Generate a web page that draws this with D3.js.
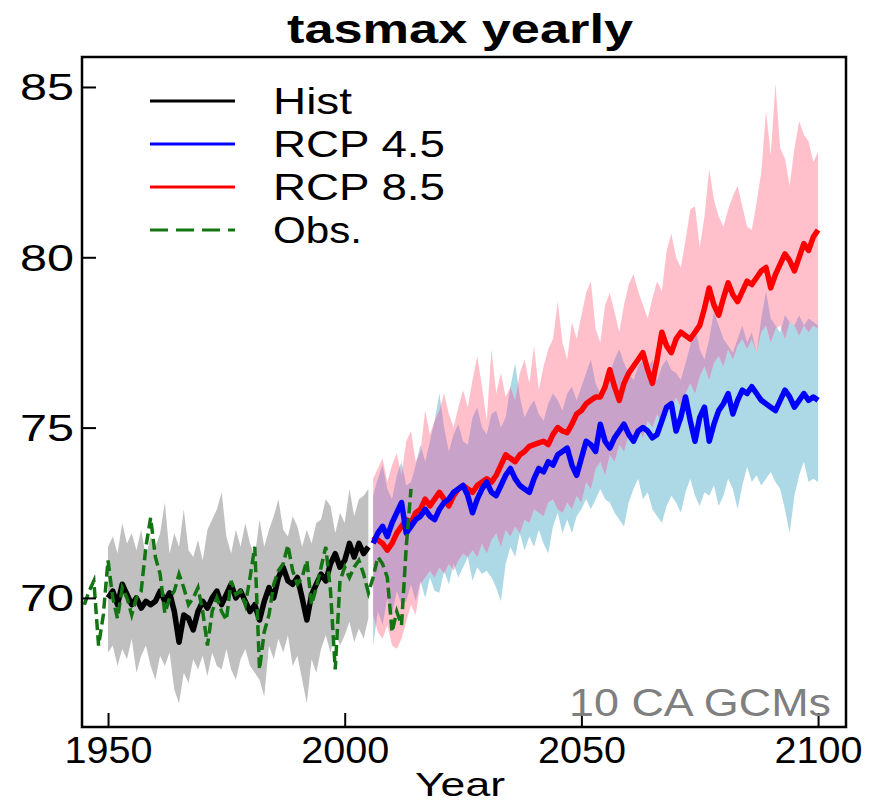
<!DOCTYPE html>
<html><head><meta charset="utf-8">
<script src="https://cdn.jsdelivr.net/npm/d3@7"></script>
<style>body{margin:0;background:#fff}svg{display:block}</style>
</head><body><svg id="c" width="880" height="805"></svg>
<script>
// ---------------- DATA ----------------
const histStart = 1950, obsStart = 1945, rcpStart = 2006;
const histMean = [70.0,70.2,69.8,70.4,70.1,69.8,70.0,69.7,69.9,69.8,
  69.9,70.2,69.9,70.15,69.6,68.7,69.5,69.4,69.06,69.6,
  69.9,69.7,70.0,70.2,69.8,70.1,70.4,70.0,70.2,69.9,
  69.6,69.8,69.35,69.9,70.3,70.0,70.6,70.9,70.5,70.4,
  70.6,70.0,69.35,70.1,70.4,70.7,70.5,71.0,71.3,70.9,
  71.1,71.6,71.2,71.6,71.3,71.5];
const histHi = [71.5,71.8,71.3,72.2,71.6,71.9,71.4,72.0,71.2,71.8,
  71.5,71.9,72.8,71.3,71.9,71.5,72.6,71.4,71.2,71.7,
  71.1,72.0,72.3,72.6,73.1,71.8,71.3,72.0,71.5,72.2,
  71.6,71.2,72.3,71.5,72.0,72.4,72.9,72.0,71.8,72.4,
  72.1,71.5,72.0,71.6,72.2,72.3,72.9,72.7,71.9,72.5,
  72.2,73.2,72.4,72.9,73.0,73.2];
const histLo = [68.4,68.6,68.0,68.5,68.2,68.8,67.8,68.3,68.6,68.0,
  67.6,68.3,68.0,68.4,67.3,66.9,67.8,67.5,68.2,67.9,
  68.3,67.7,68.4,68.0,67.9,68.5,67.9,67.6,68.2,68.5,
  68.0,67.8,67.6,67.1,68.6,68.2,68.8,68.4,68.9,68.0,
  68.3,67.6,66.9,68.2,67.8,68.5,68.9,68.4,69.0,68.6,
  68.9,69.3,68.7,69.1,68.8,69.4];
const obs = [69.8,70.2,70.5,68.6,69.5,71.1,70.0,69.4,70.3,70.0,
  69.5,70.0,70.2,71.5,72.35,71.2,70.7,69.55,70.0,70.2,
  70.7,70.3,69.8,70.0,70.3,69.6,68.6,69.6,70.0,69.6,
  69.35,70.5,70.1,70.2,69.8,70.6,71.5,67.9,69.0,69.5,
  70.4,70.8,71.0,71.55,70.8,70.4,70.6,71.1,69.8,70.3,
  70.9,71.5,70.2,67.9,70.5,70.9,70.6,70.9,71.1,70.7,
  70.15,70.6,71.2,71.0,70.6,69.0,69.6,69.2,71.5,73.2];
const rcp45 = [71.6,71.9,72.1,71.8,72.2,72.5,72.8,71.9,72.1,72.3,
  72.4,72.6,72.4,72.3,72.6,72.8,72.9,73.1,73.2,73.3,
  73.0,72.5,72.9,73.2,73.4,73.1,73.0,73.3,73.6,73.8,
  73.5,73.3,73.2,73.1,73.5,73.8,73.7,74.0,73.9,74.2,
  74.3,74.4,73.9,73.6,74.1,74.6,74.5,74.3,75.1,74.6,
  74.4,74.7,74.9,75.1,74.8,74.6,74.9,75.0,74.9,74.7,
  74.8,75.2,75.6,75.7,74.9,75.3,75.9,75.2,74.6,75.3,
  75.6,74.6,75.1,75.5,75.7,76.0,75.4,75.8,76.1,76.0,
  76.2,76.0,75.8,75.7,75.6,75.5,75.8,76.1,75.9,75.6,
  75.8,76.0,75.8,75.9,75.8];
const rcp85 = [71.8,71.7,71.6,71.4,71.6,71.9,72.1,72.3,72.2,72.5,
  72.6,72.9,72.7,72.9,73.1,72.9,72.7,73.0,73.2,73.3,
  73.2,73.1,73.3,73.4,73.5,73.4,73.6,73.9,74.2,74.1,
  74.0,74.2,74.3,74.45,74.5,74.55,74.6,74.5,74.8,75.0,
  74.9,74.85,75.1,75.4,75.5,75.7,75.8,75.9,75.9,76.2,
  76.7,76.2,75.8,76.3,76.6,76.8,77.0,77.2,76.7,76.3,
  77.0,77.8,77.4,77.2,77.6,77.8,77.7,77.6,77.8,78.0,
  78.5,79.1,78.6,78.3,78.8,79.25,78.9,78.7,79.0,79.3,
  79.2,79.4,79.6,79.7,79.1,79.5,79.8,80.1,79.9,79.6,
  80.0,80.4,80.2,80.6,80.8];
const rcp45Lo = [68.6,69.6,69.2,70.0,69.5,70.2,69.8,69.9,70.4,69.9,
  70.5,70.0,70.6,70.2,70.15,70.8,70.4,71.0,70.6,70.9,
  71.2,70.5,70.9,70.7,70.8,70.6,70.3,69.9,71.0,71.5,
  71.2,71.9,71.4,71.8,71.5,72.0,71.6,71.3,72.1,72.5,
  71.9,72.3,71.9,72.4,72.6,72.9,72.6,72.9,73.2,72.9,
  72.8,72.5,72.3,72.1,72.8,73.2,73.5,72.9,73.1,72.6,
  72.4,72.2,72.7,73.0,72.8,72.5,73.1,73.5,73.0,72.7,
  73.1,73.0,73.3,72.7,73.0,73.5,73.2,72.6,73.3,73.85,
  73.4,73.6,73.3,73.5,73.7,73.4,73.2,72.6,71.9,73.0,
  73.6,74.0,73.4,73.5,73.4];
const rcp45Hi = [73.0,73.5,73.9,73.2,72.9,73.6,74.0,73.3,73.4,73.9,
  74.5,74.0,74.6,75.2,76.0,75.0,74.3,74.8,75.1,74.6,
  74.5,75.3,75.6,75.0,74.8,75.4,75.5,75.0,75.3,76.2,
  76.9,75.9,75.3,75.6,75.8,75.4,75.2,75.7,76.0,75.8,
  75.5,76.0,76.2,75.8,76.2,76.6,77.0,76.3,76.0,76.4,
  76.6,77.0,77.3,76.9,76.6,76.4,76.8,77.0,76.7,77.0,
  76.4,76.8,77.0,76.7,76.6,76.4,76.9,77.4,78.0,77.3,
  77.0,77.6,78.4,78.0,77.6,77.4,77.2,77.6,78.0,77.5,
  77.8,77.2,78.2,79.0,78.2,78.0,77.8,78.3,78.1,78.0,
  78.3,78.0,78.2,78.1,78.0];
const rcp85Lo = [69.5,69.0,68.8,69.2,68.6,68.5,68.8,69.3,69.8,69.5,
  70.4,70.6,70.8,70.6,70.9,70.7,71.0,70.8,71.1,71.3,
  71.2,71.4,71.2,71.6,71.3,71.7,71.9,71.5,72.0,71.8,
  72.1,71.9,72.3,72.2,72.6,72.5,72.4,72.8,72.9,72.6,
  72.5,72.8,72.6,73.0,72.8,73.4,73.2,73.8,74.0,73.6,
  74.2,74.0,74.5,74.3,74.8,74.5,75.0,74.7,75.2,75.0,
  75.4,75.1,75.6,75.5,75.9,75.6,76.0,76.3,76.0,76.5,
  76.8,76.4,76.9,77.1,76.8,77.3,77.0,77.4,77.6,77.3,
  77.6,77.2,77.8,78.0,77.5,77.9,78.0,77.6,78.1,78.0,
  77.7,78.0,77.8,78.0,77.9];
const rcp85Hi = [73.5,73.8,74.1,73.4,73.9,74.25,73.6,74.6,74.9,74.0,
  74.3,75.5,74.8,75.2,75.5,76.0,75.4,75.0,75.6,76.1,
  75.6,76.4,77.1,76.2,75.2,77.3,76.0,76.6,75.9,76.2,
  75.8,76.6,77.0,76.3,77.4,76.1,76.8,77.3,77.6,78.7,
  77.5,77.0,78.1,77.6,78.3,78.95,79.3,77.9,77.5,78.6,
  78.95,78.4,77.8,78.6,79.2,79.5,79.0,78.6,78.2,78.8,
  79.3,79.0,80.2,80.7,80.0,79.7,80.5,81.4,81.5,80.3,
  81.2,82.6,81.7,81.2,80.9,81.4,81.8,82.1,81.5,80.9,
  80.8,81.6,82.5,84.3,83.0,85.1,83.2,82.9,82.1,83.2,
  84.0,83.6,83.4,82.8,83.1];
const xTicks = [1950, 2000, 2050, 2100];
const yTicks = [70, 75, 80, 85];
const legendLabels = ["Hist", "RCP 4.5", "RCP 8.5", "Obs."];
const titleText = "tasmax yearly";
const xLabel = "Year";
const noteText = "10 CA GCMs";

// ---------------- CHART ----------------
const svg = d3.select("#c");
const FONT = "'Liberation Sans', Arial, Helvetica, sans-serif";
const L = 82, R = 846, T = 57, B = 727;
const x = d3.scaleLinear().domain([1944.5, 2105.9]).range([L, R]);
const y = d3.scaleLinear().domain([66.21, 85.88]).range([B, T]);

const hist = histMean.map((v, i) => ({yr: histStart + i, v, hi: histHi[i], lo: histLo[i]}));
const obsD = obs.map((v, i) => ({yr: obsStart + i, v}));
const rcp = rcp45.map((v, i) => ({yr: rcpStart + i, a: v, b: rcp85[i],
  aHi: rcp45Hi[i], aLo: rcp45Lo[i], bHi: rcp85Hi[i], bLo: rcp85Lo[i]}));

const defs = svg.append("defs");
defs.append("clipPath").attr("id", "plot").append("rect")
  .attr("x", L).attr("y", T).attr("width", R - L).attr("height", B - T);
const band45 = d3.area().x(d => x(d.yr)).y0(d => y(d.aLo)).y1(d => y(d.aHi));
const band85 = d3.area().x(d => x(d.yr)).y0(d => y(d.bLo)).y1(d => y(d.bHi));
defs.append("clipPath").attr("id", "c45").append("path").attr("d", band45(rcp));

const g = svg.append("g").attr("clip-path", "url(#plot)");
g.append("path").attr("fill", "#C0C0C0")
  .attr("d", d3.area().x(d => x(d.yr)).y0(d => y(d.lo)).y1(d => y(d.hi))(hist));
g.append("path").attr("fill", "#ADD8E6").attr("d", band45(rcp));
g.append("path").attr("fill", "#FFC0CB").attr("d", band85(rcp));
g.append("g").attr("clip-path", "url(#c45)")
  .append("path").attr("fill", "#C8A2C8").attr("d", band85(rcp));

const line = (acc) => d3.line().x(d => x(d.yr)).y(d => y(acc(d)));
g.append("path").attr("fill", "none").attr("stroke", "#000").attr("stroke-width", 5.5)
  .attr("stroke-linejoin", "round").attr("d", line(d => d.v)(hist));
g.append("path").attr("fill", "none").attr("stroke", "#FF0000").attr("stroke-width", 5.5)
  .attr("stroke-linejoin", "round").attr("d", line(d => d.b)(rcp));
g.append("path").attr("fill", "none").attr("stroke", "#0000FF").attr("stroke-width", 5.5)
  .attr("stroke-linejoin", "round").attr("d", line(d => d.a)(rcp));
g.append("path").attr("fill", "none").attr("stroke", "#127512").attr("stroke-width", 3.5)
  .attr("stroke-dasharray", "11,5").attr("d", line(d => d.v)(obsD));

// axes (inward ticks)
const xAxis = svg.append("g").attr("transform", `translate(0,${B})`)
  .call(d3.axisBottom(x).tickValues(xTicks).tickSizeInner(-14).tickSizeOuter(0).tickPadding(10).tickFormat(d3.format("d")));
xAxis.select(".domain").remove();
xAxis.selectAll("line").attr("stroke", "#000").attr("stroke-width", 2);
xAxis.selectAll("text").attr("font-family", FONT).attr("font-size", 36).attr("fill", "#000")
  .attr("dy", "0.71em").attr("textLength", 88).attr("lengthAdjust", "spacingAndGlyphs");

const yAxis = svg.append("g").attr("transform", `translate(${L},0)`)
  .call(d3.axisLeft(y).tickValues(yTicks).tickSizeInner(-14).tickSizeOuter(0).tickPadding(8));
yAxis.select(".domain").remove();
yAxis.selectAll("line").attr("stroke", "#000").attr("stroke-width", 2);
yAxis.selectAll("text").attr("font-family", FONT).attr("font-size", 36).attr("fill", "#000")
  .attr("dy", "0.36em").attr("textLength", 54).attr("lengthAdjust", "spacingAndGlyphs");

svg.append("rect").attr("x", L).attr("y", T).attr("width", R - L).attr("height", B - T)
  .attr("fill", "none").attr("stroke", "#000").attr("stroke-width", 2.5);

// title & labels
svg.append("text").attr("x", 460).attr("y", 43).attr("text-anchor", "middle")
  .attr("font-family", FONT).attr("font-weight", "bold").attr("font-size", 40)
  .attr("textLength", 346).attr("lengthAdjust", "spacingAndGlyphs").text(titleText);
svg.append("text").attr("x", 460).attr("y", 796).attr("text-anchor", "middle")
  .attr("font-family", FONT).attr("font-size", 34)
  .attr("textLength", 90).attr("lengthAdjust", "spacingAndGlyphs").text(xLabel);
svg.append("text").attr("x", 831).attr("y", 716).attr("text-anchor", "end")
  .attr("font-family", FONT).attr("font-size", 38).attr("fill", "#7F7F7F")
  .attr("textLength", 262).attr("lengthAdjust", "spacingAndGlyphs").text(noteText);

// legend
const legColors = ["#000000", "#0000FF", "#FF0000", "#127512"];
const legWidths = [79, 172, 172, 89];
const legY = [101, 144, 187, 230];
legendLabels.forEach((lab, i) => {
  const ln = svg.append("line").attr("x1", 150).attr("x2", 235).attr("y1", legY[i]).attr("y2", legY[i])
    .attr("stroke", legColors[i]).attr("stroke-width", 3);
  if (i === 3) ln.attr("stroke-dasharray", "18,8");
  svg.append("text").attr("x", 273).attr("y", legY[i] + 13)
    .attr("font-family", FONT).attr("font-size", 36)
    .attr("textLength", legWidths[i]).attr("lengthAdjust", "spacingAndGlyphs").text(lab);
});
</script></body></html>
